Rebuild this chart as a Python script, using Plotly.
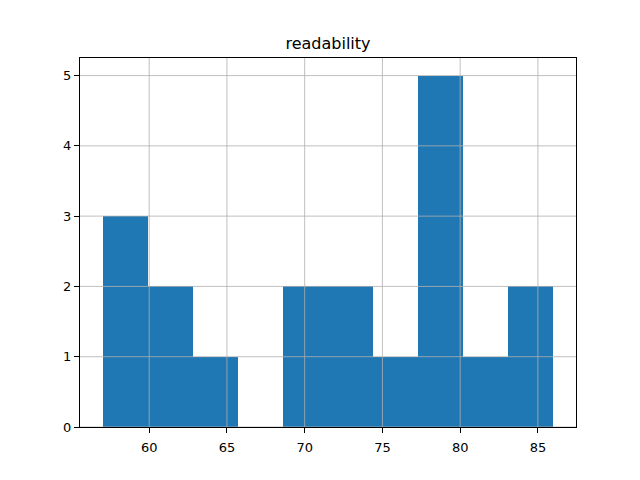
import plotly.graph_objects as go

bin_edges = [57.0, 59.9, 62.8, 65.7, 68.6, 71.5, 74.4, 77.3, 80.2, 83.1, 86.0]
counts = [3, 2, 1, 0, 2, 2, 1, 5, 1, 2]
x_ticks = [60, 65, 70, 75, 80, 85]
y_ticks = [0, 1, 2, 3, 4, 5]
title = "readability"

centers = [(a + b) / 2 for a, b in zip(bin_edges[:-1], bin_edges[1:])]
widths = [b - a for a, b in zip(bin_edges[:-1], bin_edges[1:])]

span = bin_edges[-1] - bin_edges[0]
xr = [bin_edges[0] - 0.05 * span, bin_edges[-1] + 0.05 * span]
yr = [0, max(counts) * 1.05]

fig = go.Figure(go.Bar(x=centers, y=counts, width=widths,
                       marker=dict(color="#1f77b4", line=dict(width=0))))

axis_common = dict(showline=True, mirror=True, linecolor="black", linewidth=1,
                   ticks="outside", ticklen=5, tickcolor="black", tickwidth=1,
                   showgrid=False, zeroline=False, layer="above traces",
                   tickfont=dict(family="DejaVu Sans", size=13, color="black"))

fig.update_xaxes(range=xr, tickvals=x_ticks, ticklabelstandoff=3, **axis_common)
fig.update_yaxes(range=yr, tickvals=y_ticks, **axis_common)

grid = dict(color="#b0b0b0", width=0.8)
shapes = []
for t in x_ticks:
    shapes.append(dict(type="line", xref="x", yref="paper", x0=t, x1=t, y0=0, y1=1,
                       line=grid, layer="above"))
for t in y_ticks:
    shapes.append(dict(type="line", xref="paper", yref="y", x0=0, x1=1, y0=t, y1=t,
                       line=grid, layer="above"))

# page body has an 8px offset; compensate so the plot area lands where the reference has it
off = 8
fig.update_layout(
    width=640, height=480,
    margin=dict(l=80 - off, r=64 + off, t=58 - off, b=53 + off),
    paper_bgcolor="white", plot_bgcolor="white",
    bargap=0, showlegend=False, shapes=shapes,
    title=dict(text=title, x=0.5, xref="paper", xanchor="center",
               y=1 - (43 - off) / 480, yref="container", yanchor="middle",
               font=dict(family="DejaVu Sans", size=16, color="black")),
)

fig.write_html("out.html")
